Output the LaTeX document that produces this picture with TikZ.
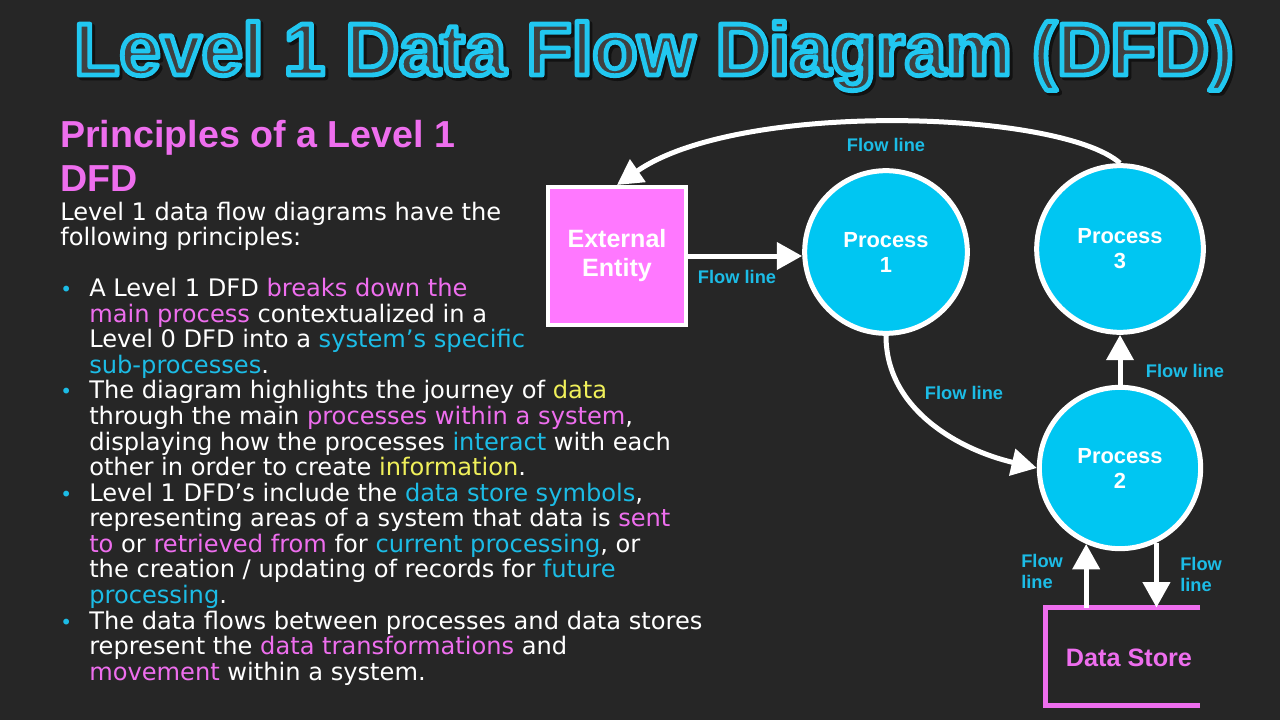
\documentclass[tikz,border=0pt]{standalone}
\usepackage{fontspec}
\setmainfont{Liberation Sans}
\newfontfamily\handfont{DejaVu Sans}
\usetikzlibrary{arrows.meta,calc}
\definecolor{bgcol}{RGB}{38,38,38}
\definecolor{tfill}{RGB}{64,64,64}
\definecolor{magcol}{RGB}{238,110,238}
\definecolor{eemag}{RGB}{255,120,255}
\definecolor{cycol}{RGB}{28,188,230}
\definecolor{yelcol}{RGB}{240,240,90}
\definecolor{proccol}{RGB}{0,198,242}
\newcommand\mgt[1]{\textcolor{magcol}{#1}}
\newcommand\cyt[1]{\textcolor{cycol}{#1}}
\newcommand\ylt[1]{\textcolor{yelcol}{#1}}
\newcommand\bodyline[4]{\node[bodytxt] (#1) at (#2,#3) {#4};}
\newcommand\bulletat[2]{\node[bulletdot] (#1) at (60,#2) {•};}
\newcommand\outlinetext[1]{\textcolor{tfill}{\special{pdf:code q 0.13 0.78 0.94 RG 3.6 w 1 j 2 Tr}#1\special{pdf:code Q}}}
\newcommand\shadowtext[1]{\textcolor{black}{\special{pdf:code q 0.05 0.05 0.05 RG 4.2 w 1 j 2 Tr}#1\special{pdf:code Q}}}
\begin{document}
\begin{tikzpicture}[x=0.75pt,y=-0.75pt,
  bodytxt/.style={anchor=base west, inner sep=0pt, text=white, font=\handfont\fontsize{18.1}{20}\selectfont},
  bulletdot/.style={anchor=base west, inner sep=0pt, text=cycol, font=\handfont\fontsize{15}{18}\selectfont},
  flowlbl/.style={text=cycol, font=\bfseries\fontsize{13.7}{15.75}\selectfont, inner sep=0pt, align=left},
  procnode/.style={circle, fill=proccol, draw=white, line width=3.75pt, text=white, inner sep=0pt,
     font=\bfseries\fontsize{16.4}{18.75}\selectfont, align=center},
  flowarr/.style={draw=white, line width=3.75pt, -{Triangle[length=19pt,width=20pt]}},
  titletxt/.style={anchor=base, inner sep=0pt, font=\bfseries\fontsize{55.5}{60}\selectfont},
  headtxt/.style={anchor=base west, inner sep=0pt, text=magcol, font=\bfseries\fontsize{28.2}{32}\selectfont}
]
\useasboundingbox (0,0) rectangle (1280,720);
\fill[bgcol] (0,0) rectangle (1280,720);

% title
\node[titletxt, opacity=0.8] (titleshadow) at (656.5,77.5) {\shadowtext{Level 1 Data Flow Diagram (DFD)}};
\node[titletxt] (title) at (654,75) {\outlinetext{Level 1 Data Flow Diagram (DFD)}};

% heading
\node[headtxt] (head1) at (60,148) {Principles of a Level 1};
\node[headtxt] (head2) at (60,192) {DFD};

% body
\bodyline{b0}{60}{220}{Level 1 data flow diagrams have the}
\bodyline{b1}{60}{245.6}{following principles:}
\bulletat{d1}{296.7}
\bodyline{b3}{89}{296.7}{A Level 1 DFD \mgt{breaks down the}}
\bodyline{b4}{89}{322.2}{\mgt{main process} contextualized in a}
\bodyline{b5}{89}{347.8}{Level 0 DFD into a \cyt{system’s specific}}
\bodyline{b6}{89}{373.4}{\cyt{sub-processes}.}
\bulletat{d2}{398.9}
\bodyline{b7}{89}{398.9}{The diagram highlights the journey of \ylt{data}}
\bodyline{b8}{89}{424.5}{through the main \mgt{processes within a system},}
\bodyline{b9}{89}{450.0}{displaying how the processes \cyt{interact} with each}
\bodyline{b10}{89}{475.6}{other in order to create \ylt{information}.}
\bulletat{d3}{501.2}
\bodyline{b11}{89}{501.2}{Level 1 DFD’s include the \cyt{data store symbols},}
\bodyline{b12}{89}{526.7}{representing areas of a system that data is \mgt{sent}}
\bodyline{b13}{89}{552.3}{\mgt{to} or \mgt{retrieved from} for \cyt{current processing}, or}
\bodyline{b14}{89}{577.8}{the creation / updating of records for \cyt{future}}
\bodyline{b15}{89}{603.4}{\cyt{processing}.}
\bulletat{d4}{629.0}
\bodyline{b16}{89}{629.0}{The data flows between processes and data stores}
\bodyline{b17}{89}{654.5}{represent the \mgt{data transformations} and}
\bodyline{b18}{89}{680.1}{\mgt{movement} within a system.}

% diagram nodes
\node[draw=white, fill=eemag, line width=3pt, minimum size=103.5pt, inner sep=0pt, text=white,
  align=center, font=\bfseries\fontsize{18.8}{21.75}\selectfont] (ee) at (617,256) {External\\Entity};
\node[procnode, minimum size=122pt] (p1) at (886,252) {Process\\1};
\node[procnode, minimum size=125pt] (p3) at (1120,249) {Process\\3};
\node[procnode, minimum size=121pt] (p2) at (1120,468) {Process\\2};

\node[minimum width=115.9pt, minimum height=73.5pt, inner sep=0pt, outer sep=0pt] (ds) at (1122.75,656.5) {};
\draw[magcol, line width=3.75pt] (ds.north east) -- (ds.north west) -- (ds.south west) -- (ds.south east);
\node[text=magcol, inner sep=0pt, font=\bfseries\fontsize{18.9}{21}\selectfont] (dslbl) at (1129,658) {Data Store};

% connectors
\draw[flowarr] (ee.east) -- (ee.east -| p1.west);
\draw[flowarr] (p3.north) .. controls +(-60,-53) and +(123,-85) .. (ee.north);
\draw[flowarr] (p1.south) .. controls +(0,74) and +(-77,-18) .. (p2.west);
\draw[flowarr] (p2.north) -- (p3.south);
\draw[flowarr] (p2.246 |- ds.north) -- (p2.246);
\draw[flowarr] (p2.-64) -- (p2.-64 |- ds.north);

% labels
\node[flowlbl] (lbl1) at (886,145) {Flow line};
\node[flowlbl] (lbl2) at (737,277) {Flow line};
\node[flowlbl] (lbl3) at (964,393) {Flow line};
\node[flowlbl] (lbl4) at (1185,371) {Flow line};
\node[flowlbl, anchor=west] (lbl5) at (1021,571) {Flow\\line};
\node[flowlbl, anchor=west] (lbl6) at (1180,574) {Flow\\line};
\end{tikzpicture}
\end{document}
